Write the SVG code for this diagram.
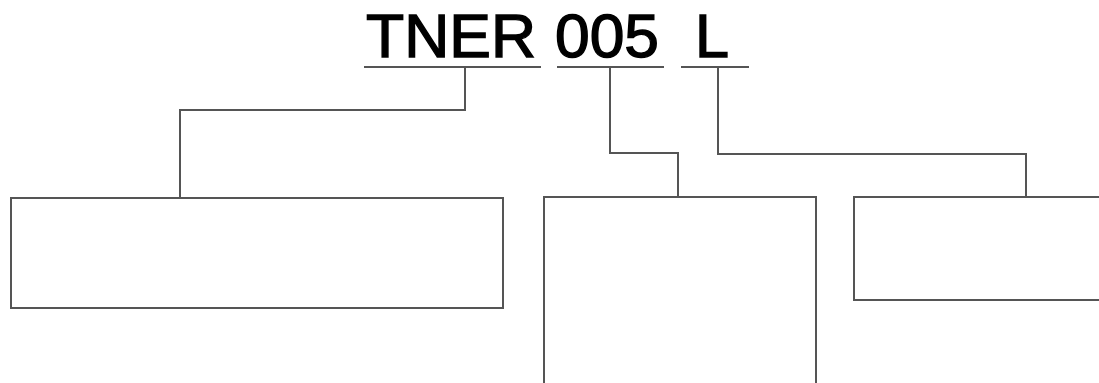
<svg xmlns="http://www.w3.org/2000/svg" width="1099" height="383" viewBox="0 0 1099 383">
<style>
.t{font-family:"Liberation Sans",Arial,sans-serif;font-size:61px;fill:#000;stroke:#000;stroke-width:1.4}
.ln{fill:none;stroke:#555;stroke-width:2}
.box{fill:#fff;stroke:#555;stroke-width:2}
</style>
<rect width="1099" height="383" fill="#fff"/>
<g id="code">
<text class="t" x="366" y="57" textLength="170" lengthAdjust="spacingAndGlyphs">TNER</text>
<text class="t" x="555" y="57" textLength="104" lengthAdjust="spacingAndGlyphs">005</text>
<text class="t" x="695" y="57" textLength="34" lengthAdjust="spacingAndGlyphs">L</text>
</g>
<g id="connectors">
<line class="ln" x1="364" y1="67" x2="541" y2="67"/>
<line class="ln" x1="557" y1="67" x2="664" y2="67"/>
<line class="ln" x1="681" y1="67" x2="749" y2="67"/>
<polyline class="ln" points="465,67 465,110 180,110 180,198"/>
<polyline class="ln" points="610,67 610,153 678,153 678,197"/>
<polyline class="ln" points="718,67 718,154 1026,154 1026,197"/>
</g>
<g id="box1"><rect class="box" x="11" y="198" width="492" height="110"/></g>
<g id="box2"><rect class="box" x="544" y="197" width="272" height="200"/></g>
<g id="box3"><rect class="box" x="854" y="197" width="260" height="103"/></g>
</svg>
